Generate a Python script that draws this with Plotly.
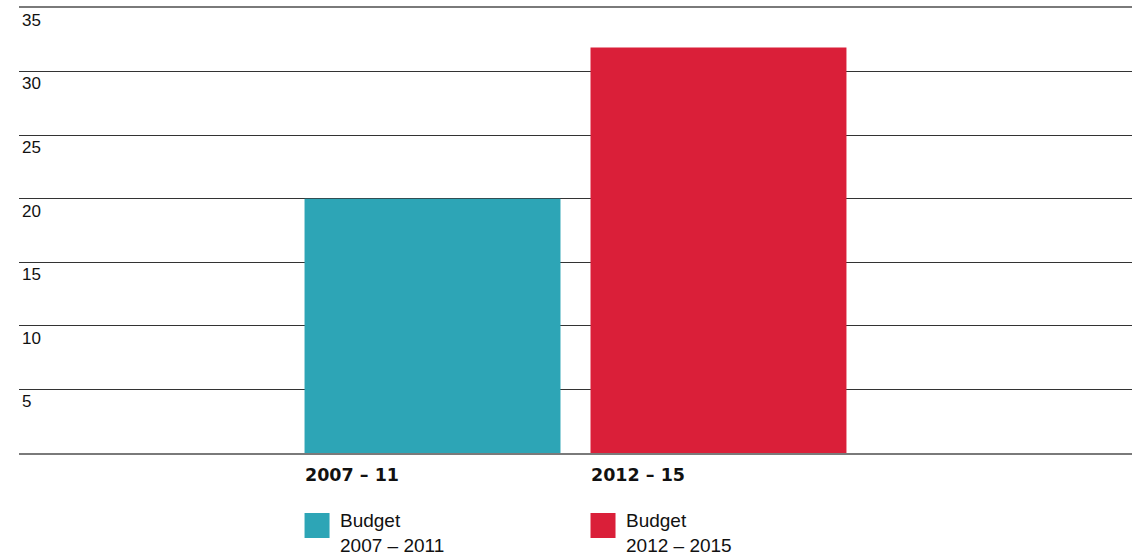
import plotly.graph_objects as go

categories = ["2007 – 11", "2012 – 15"]
values = [20, 31.9]
legend_labels = ["Budget<br>2007 – 2011", "Budget<br>2012 – 2015"]
colors = ["#2DA5B6", "#DA1F39"]
y_ticks = [5, 10, 15, 20, 25, 30, 35]

FONT = "Liberation Sans, Arial, sans-serif"
BOLD_FONT = "DejaVu Sans, Liberation Sans, sans-serif"
BAR_W = 0.895

fig = go.Figure()
fig.add_trace(go.Bar(
    x=list(range(len(categories))), y=values,
    marker=dict(color=colors, line=dict(width=0)),
    width=BAR_W, hoverinfo="skip", showlegend=False,
))

annotations = []
shapes = []
for i, (cat, lab, col) in enumerate(zip(categories, legend_labels, colors)):
    left = i - BAR_W / 2
    annotations.append(dict(
        x=left, xref="x", y=0, yref="y", xanchor="left", yanchor="middle",
        xshift=-2, yshift=-22, text=f"<b>{cat}</b>", showarrow=False,
        font=dict(family=BOLD_FONT, size=17.5, color="#111"),
    ))
    shapes.append(dict(
        type="rect", xref="x", yref="paper", xsizemode="pixel", ysizemode="pixel",
        xanchor=left, yanchor=0, x0=0, x1=25, y0=-60, y1=-85,
        fillcolor=col, line=dict(width=0), layer="above",
    ))
    annotations.append(dict(
        x=left, xref="x", y=0, yref="y", xanchor="left", yanchor="middle",
        xshift=33, yshift=-80, text=lab, showarrow=False, align="left",
        font=dict(family=FONT, size=19, color="#111"),
    ))

fig.update_layout(
    width=1145, height=558,
    margin=dict(l=19, r=13, t=6, b=105),
    paper_bgcolor="white", plot_bgcolor="white",
    font=dict(family=FONT, size=17, color="#111"),
    xaxis=dict(
        range=[-1.446, 2.446], showticklabels=False, showgrid=False,
        zeroline=False, showline=True, mirror=True, linecolor="#7a7a7a",
        linewidth=2, ticks="", fixedrange=True,
    ),
    yaxis=dict(
        range=[0, 35], tickvals=y_ticks, ticktext=[str(v) for v in y_ticks],
        showgrid=True, gridcolor="#333333", gridwidth=1, zeroline=False,
        showline=False, ticks="", ticklabelposition="inside bottom",
        ticklabelshift=0, ticklabelstandoff=0, fixedrange=True,
        tickfont=dict(family=FONT, size=17, color="#111"),
    ),
    annotations=annotations, shapes=shapes, showlegend=False,
)

fig.write_html(
    "out.html",
    config={"displayModeBar": False},
    post_script="document.body.style.margin='0px';document.body.style.overflow='hidden';",
)
